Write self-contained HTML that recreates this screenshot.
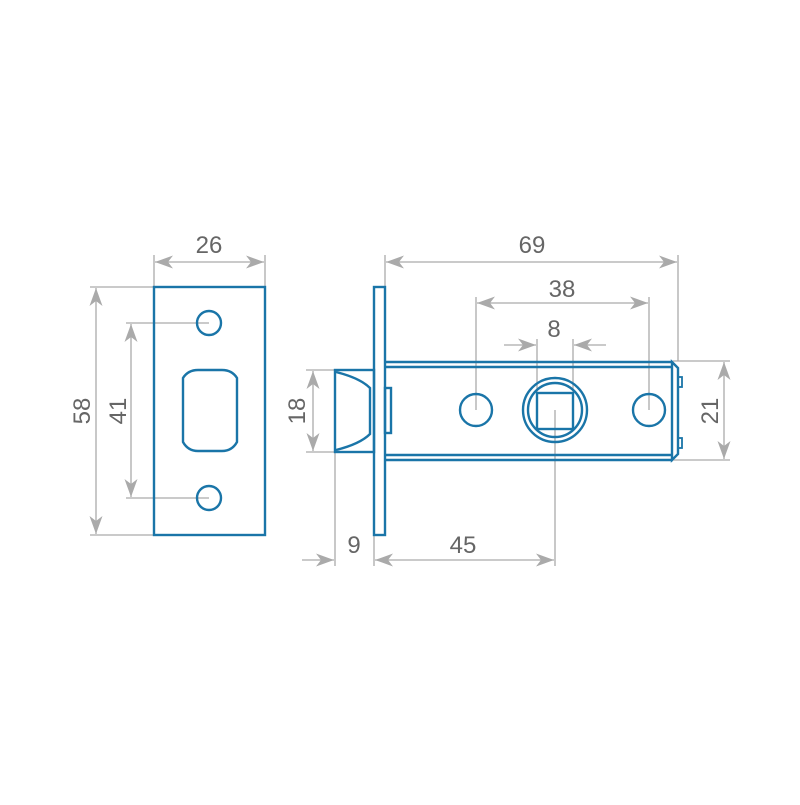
<!DOCTYPE html>
<html><head><meta charset="utf-8"><style>html,body{margin:0;padding:0;background:#fff}</style></head>
<body>
<svg width="800" height="800" viewBox="0 0 800 800" xmlns="http://www.w3.org/2000/svg">
<defs>
<marker id="a" viewBox="0 0 18 13" refX="18" refY="6.5" markerWidth="18" markerHeight="13" markerUnits="userSpaceOnUse" orient="auto-start-reverse">
<path d="M0,0 L18,6.5 L0,13 L5,6.5 Z" fill="#aaa"/>
</marker>
</defs>
<g stroke="#aaa" stroke-width="1.3" fill="none">
<line x1="154" y1="255" x2="154" y2="287"/><line x1="265" y1="255" x2="265" y2="287"/>
<line x1="155" y1="262" x2="264" y2="262" marker-start="url(#a)" marker-end="url(#a)"/>
<line x1="90" y1="287" x2="154" y2="287"/><line x1="90" y1="535" x2="154" y2="535"/>
<line x1="96" y1="288" x2="96" y2="534" marker-start="url(#a)" marker-end="url(#a)"/>
<line x1="126" y1="323" x2="209" y2="323"/><line x1="126" y1="498" x2="209" y2="498"/>
<line x1="131" y1="324" x2="131" y2="497" marker-start="url(#a)" marker-end="url(#a)"/>
<line x1="385" y1="255" x2="385" y2="287"/><line x1="678" y1="255" x2="678" y2="361"/>
<line x1="386" y1="262" x2="677" y2="262" marker-start="url(#a)" marker-end="url(#a)"/>
<line x1="476" y1="297" x2="476" y2="410"/><line x1="649" y1="297" x2="649" y2="410"/>
<line x1="477" y1="303" x2="648" y2="303" marker-start="url(#a)" marker-end="url(#a)"/>
<line x1="537" y1="339" x2="537" y2="393"/><line x1="573" y1="339" x2="573" y2="393"/>
<line x1="504" y1="345" x2="536" y2="345" marker-end="url(#a)"/>
<line x1="606" y1="345" x2="574" y2="345" marker-end="url(#a)"/>
<line x1="673" y1="361" x2="730" y2="361"/><line x1="673" y1="460" x2="730" y2="460"/>
<line x1="724" y1="362" x2="724" y2="459" marker-start="url(#a)" marker-end="url(#a)"/>
<line x1="306" y1="370" x2="335" y2="370"/><line x1="306" y1="452" x2="335" y2="452"/>
<line x1="313" y1="371" x2="313" y2="451" marker-start="url(#a)" marker-end="url(#a)"/>
<line x1="335" y1="452" x2="335" y2="566"/><line x1="374" y1="535" x2="374" y2="566"/><line x1="555" y1="410" x2="555" y2="566"/>
<line x1="302" y1="560" x2="334" y2="560" marker-end="url(#a)"/>
<line x1="375" y1="560" x2="554" y2="560" marker-start="url(#a)" marker-end="url(#a)"/>
</g>
<g stroke="#1a75a8" stroke-width="2.4" fill="none">
<rect x="154" y="287" width="111" height="248"/>
<circle cx="209" cy="323" r="12"/>
<circle cx="209" cy="498" r="12"/>
<path d="M183,378 Q188,370 198,370 L222,370 Q232,370 237,378 L237,442 Q232,451 222,451 L198,451 Q188,451 183,442 Z"/>
<rect x="374" y="287" width="11" height="248"/>
<rect x="335" y="370" width="39" height="82"/>
<path d="M336,372 Q360,378 370,388 L370,434 Q360,444 336,450"/>
<rect x="385" y="388" width="6" height="45"/>
<line x1="385" y1="362" x2="673" y2="362"/>
<line x1="385" y1="367" x2="673" y2="367"/>
<line x1="385" y1="455" x2="673" y2="455"/>
<line x1="385" y1="460" x2="673" y2="460"/>
<path d="M672,362 L678,368 L678,454 L672,460 Z"/>
<rect x="678" y="377" width="4" height="10" stroke-width="1.8"/>
<rect x="678" y="438" width="4" height="10" stroke-width="1.8"/>
<circle cx="476" cy="410" r="16"/>
<circle cx="649" cy="410" r="16"/>
<circle cx="555" cy="410" r="32"/>
<circle cx="555" cy="410" r="27"/>
<rect x="537" y="393" width="36" height="36"/>
</g>
<g fill="#666" font-family="Liberation Sans, sans-serif" font-size="24" text-anchor="middle">
<text x="209" y="253">26</text>
<text x="532" y="253">69</text>
<text x="562" y="297">38</text>
<text x="554" y="337">8</text>
<text x="354" y="553">9</text>
<text x="463" y="553">45</text>
<text transform="translate(90,411) rotate(-90)">58</text>
<text transform="translate(126,411) rotate(-90)">41</text>
<text transform="translate(305,411) rotate(-90)">18</text>
<text transform="translate(718,411) rotate(-90)">21</text>
</g>
</svg>
</body></html>
